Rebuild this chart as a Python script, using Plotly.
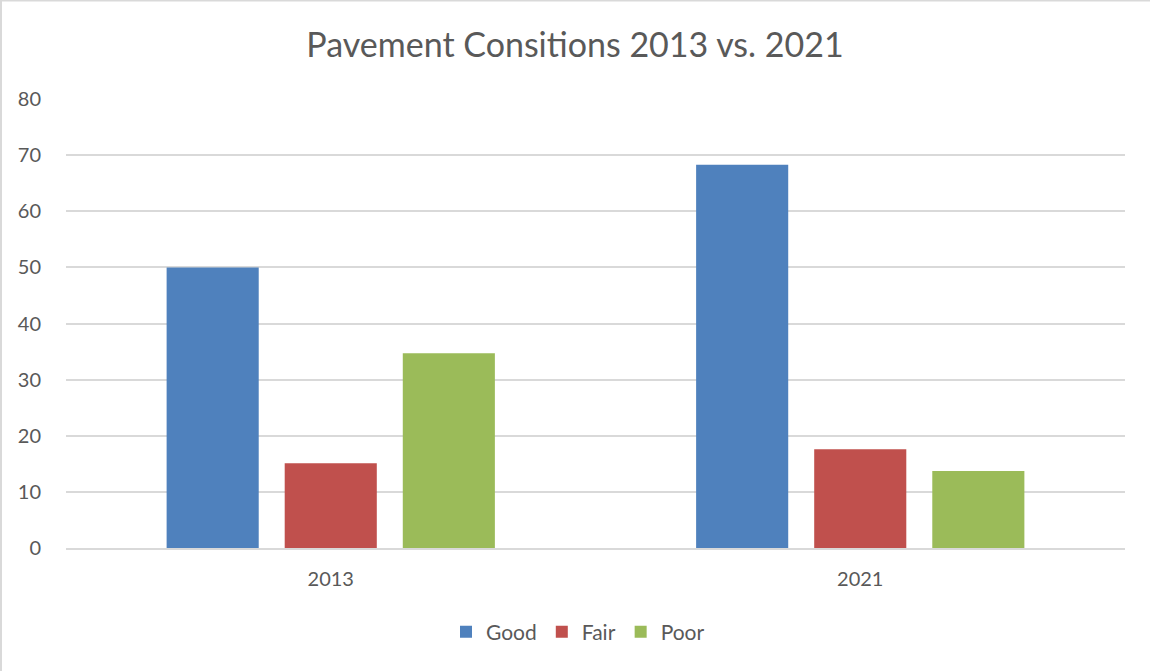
import plotly.graph_objects as go

categories = ["2013", "2021"]
good = [50, 68.3]
fair = [15.1, 17.6]
poor = [34.7, 13.7]
series_names = ["Good", "Fair", "Poor"]
colors = ["#4F81BD", "#C0504D", "#9BBB59"]

W, H = 1150, 671
L, R, T, B = 66, 25, 99, 123
pw, ph = W - L - R, H - T - B

fig = go.Figure()
for name, vals, c in zip(series_names, [good, fair, poor], colors):
    fig.add_trace(go.Bar(name=name, x=categories, y=vals, marker=dict(color=c, line=dict(width=0))))

def px2x(px):
    return (px - L) / pw

def py2y(py):
    return (H - B - py) / ph

fig.update_layout(
    width=W, height=H,
    margin=dict(l=L, r=R, t=T, b=B),
    paper_bgcolor="white", plot_bgcolor="white",
    font=dict(family="Lato, Liberation Sans, sans-serif", color="#595959", size=20),
    title=dict(text="Pavement Consitions 2013 vs. 2021", x=0.5, xanchor="center",
               y=1 - 45 / H, yanchor="middle", font=dict(size=34, color="#595959")),
    barmode="group", bargap=0.331, bargroupgap=0.22,
    xaxis=dict(showgrid=False, showline=True, linecolor="#D9D9D9", linewidth=1.5,
               ticks="", ticklabelstandoff=12, tickfont=dict(size=20, color="#595959")),
    yaxis=dict(range=[0, 80], dtick=10, showgrid=True, gridcolor="#D9D9D9", gridwidth=1.5,
               zeroline=False, showline=False, ticks="", ticklabelstandoff=24,
               tickfont=dict(size=20, color="#595959")),
    legend=dict(orientation="h", x=px2x(578), xanchor="center", y=py2y(632), yanchor="middle",
                font=dict(size=21, color="#595959"), itemwidth=30),
    showlegend=True,
    shapes=[
        dict(type="line", xref="paper", yref="paper", x0=px2x(1), x1=px2x(1), y0=py2y(0), y1=py2y(H),
             line=dict(color="#D9D9D9", width=2)),
        dict(type="line", xref="paper", yref="paper", x0=px2x(0), x1=px2x(W), y0=py2y(0.5), y1=py2y(0.5),
             line=dict(color="#D9D9D9", width=2)),
    ],
)
fig.write_html("out.html", config={"displayModeBar": False},
               post_script="document.body.style.margin='0';document.body.style.overflow='hidden';")
